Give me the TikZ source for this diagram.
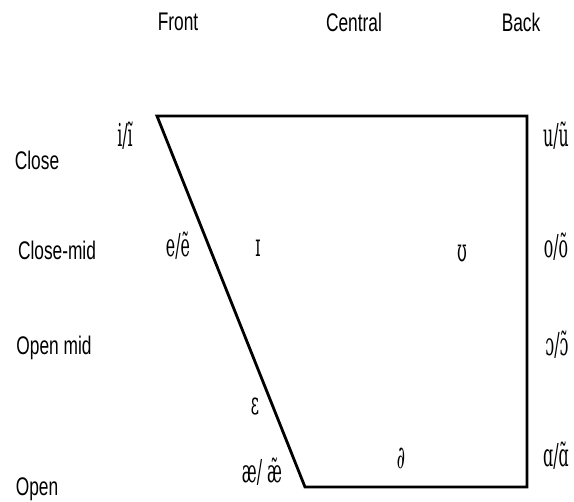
\documentclass[tikz,border=0pt]{standalone}
\usepackage{fontspec}
\setmainfont{DejaVu Serif}
\newfontfamily\labfont{Liberation Sans}
\usetikzlibrary{positioning}
\tikzset{
  chart/.style={black, line width=1.6pt, line join=miter},
  colhead/.style={font=\labfont\fontsize{14.5}{16}\selectfont, xscale=0.68, inner sep=0pt},
  rowhead/.style={font=\labfont\fontsize{14.5}{16}\selectfont, xscale=0.68, inner sep=0pt},
  vow/.style={font=\fontsize{18}{20}\selectfont, xscale=0.5, inner sep=0pt, anchor=base},
}

\begin{document}
\begin{tikzpicture}[x=0.02cm, y=-0.02cm]
    \useasboundingbox (0,0) rectangle (574,501);
    % corners of the chart
    \coordinate (fc) at (157,116);
    \coordinate (bc) at (527,116);
    \coordinate (bo) at (527,487);
    \coordinate (fo) at (305,487);
    \draw[chart] (fc) -- (bc) -- (bo) -- (fo) -- cycle;
    % column and row heads
    \node[colhead] (front) at (178,22) {Front};
    \node[colhead] (central) at (354,22) {Central};
    \node[colhead] (back) at (521,22) {Back};
    \node[rowhead] (close) at (37,160) {Close};
    \node[rowhead] (closemid) at (57,250) {Close-mid};
    \node[rowhead] (openmid) at (54,348) {Open mid};
    \node[rowhead] (open) at (37,489) {Open};
    % vowels
    \node[vow] (i) at (125,146) {i/ĩ};
    \node[vow] (u) at (556,146) {u/ũ};
    \node[vow] (e) at (178,256) {e/ẽ};
    \node[vow] (ih) at (258,256) {ɪ};
    \node[vow] (uh) at (462,261) {ʊ};
    \node[vow] (o) at (556,257) {o/õ};
    \node[vow] (oh) at (557,355) {ɔ/ɔ̃};
    \node[vow] (eh) at (255,414) {ɛ};
    \node[vow] (schwa) at (401,468) {∂};
    \node[vow] (ae) at (262,482) {æ/ æ̃};
    \node[vow] (a) at (556,466) {ɑ/ɑ̃};
\end{tikzpicture}
\end{document}
